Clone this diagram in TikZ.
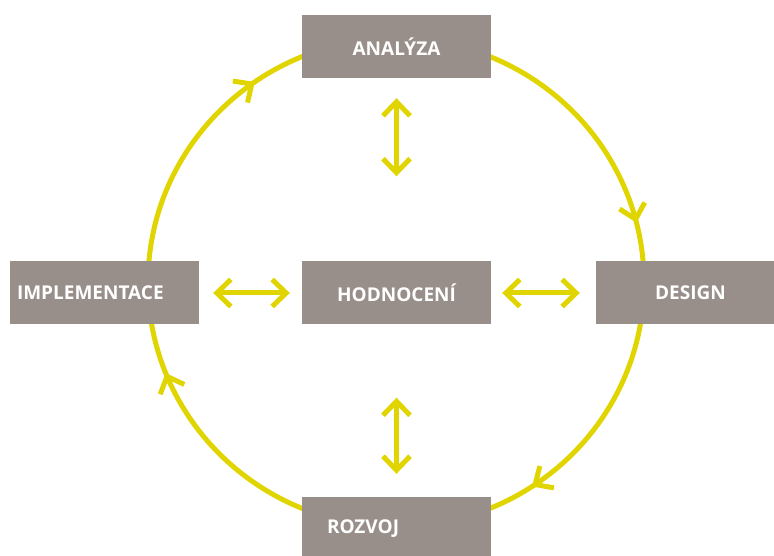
\documentclass[tikz,border=0pt]{standalone}
\usepackage{fontspec}
\setmainfont{Open Sans}
\usetikzlibrary{arrows.meta, decorations.markings}
\definecolor{boxgray}{RGB}{152,143,139}
\definecolor{cycleyellow}{RGB}{224,213,0}
\tikzset{
    etapa/.style={fill=boxgray, text=white, font=\bfseries\fontsize{19}{22}\selectfont,
        minimum width=189pt, minimum height=63pt, inner sep=0pt},
    etapavlevo/.style={etapa, inner xsep=#1, text width=189pt-2*#1, align=left},
    ciklus/.style={draw=cycleyellow, line width=5pt},
    sipka/.tip={Straight Barb[length=14pt, width=26pt]},
    vazba/.style={draw=cycleyellow, line width=5pt,
        {Straight Barb[length=14pt, width=27pt]}-{Straight Barb[length=14pt, width=27pt]}}
}
\begin{document}
\begin{tikzpicture}[x=1pt, y=1pt]
    \clip (0,0) rectangle (774,555);
    \useasboundingbox (0,0) rectangle (774,555);
    % cyklus
    \draw[ciklus, postaction={decorate}, decoration={markings,
        mark=at position 0.039 with {\arrowreversed{sipka}},
        mark=at position 0.347 with {\arrowreversed{sipka}},
        mark=at position 0.560 with {\arrowreversed{sipka}},
        mark=at position 0.843 with {\arrowreversed{sipka}}}]
        (396,272.5) ellipse [x radius=248, y radius=244];
    % etapy
    \node[etapa] (ana) at (396.5,508.5) {ANALÝZA};
    \node[etapavlevo=7pt] (impl) at (104.5,262) {IMPLEMENTACE};
    \node[etapa] (hod) at (396.5,262) {HODNOCENÍ};
    \node[etapa] (des) at (690.5,262) {DESIGN};
    \node[etapavlevo=25pt] (roz) at (396.5,26.5) {ROZVOJ};
    % vazby
    \draw[vazba, shorten <=20pt, shorten >=85pt] (ana) -- (hod);
    \draw[vazba, shorten <=14pt, shorten >=12pt] (impl) -- (hod);
    \draw[vazba, shorten <=11pt, shorten >=16pt] (hod) -- (des);
    \draw[vazba, shorten <=73pt, shorten >=23pt] (hod) -- (roz);
\end{tikzpicture}
\end{document}
